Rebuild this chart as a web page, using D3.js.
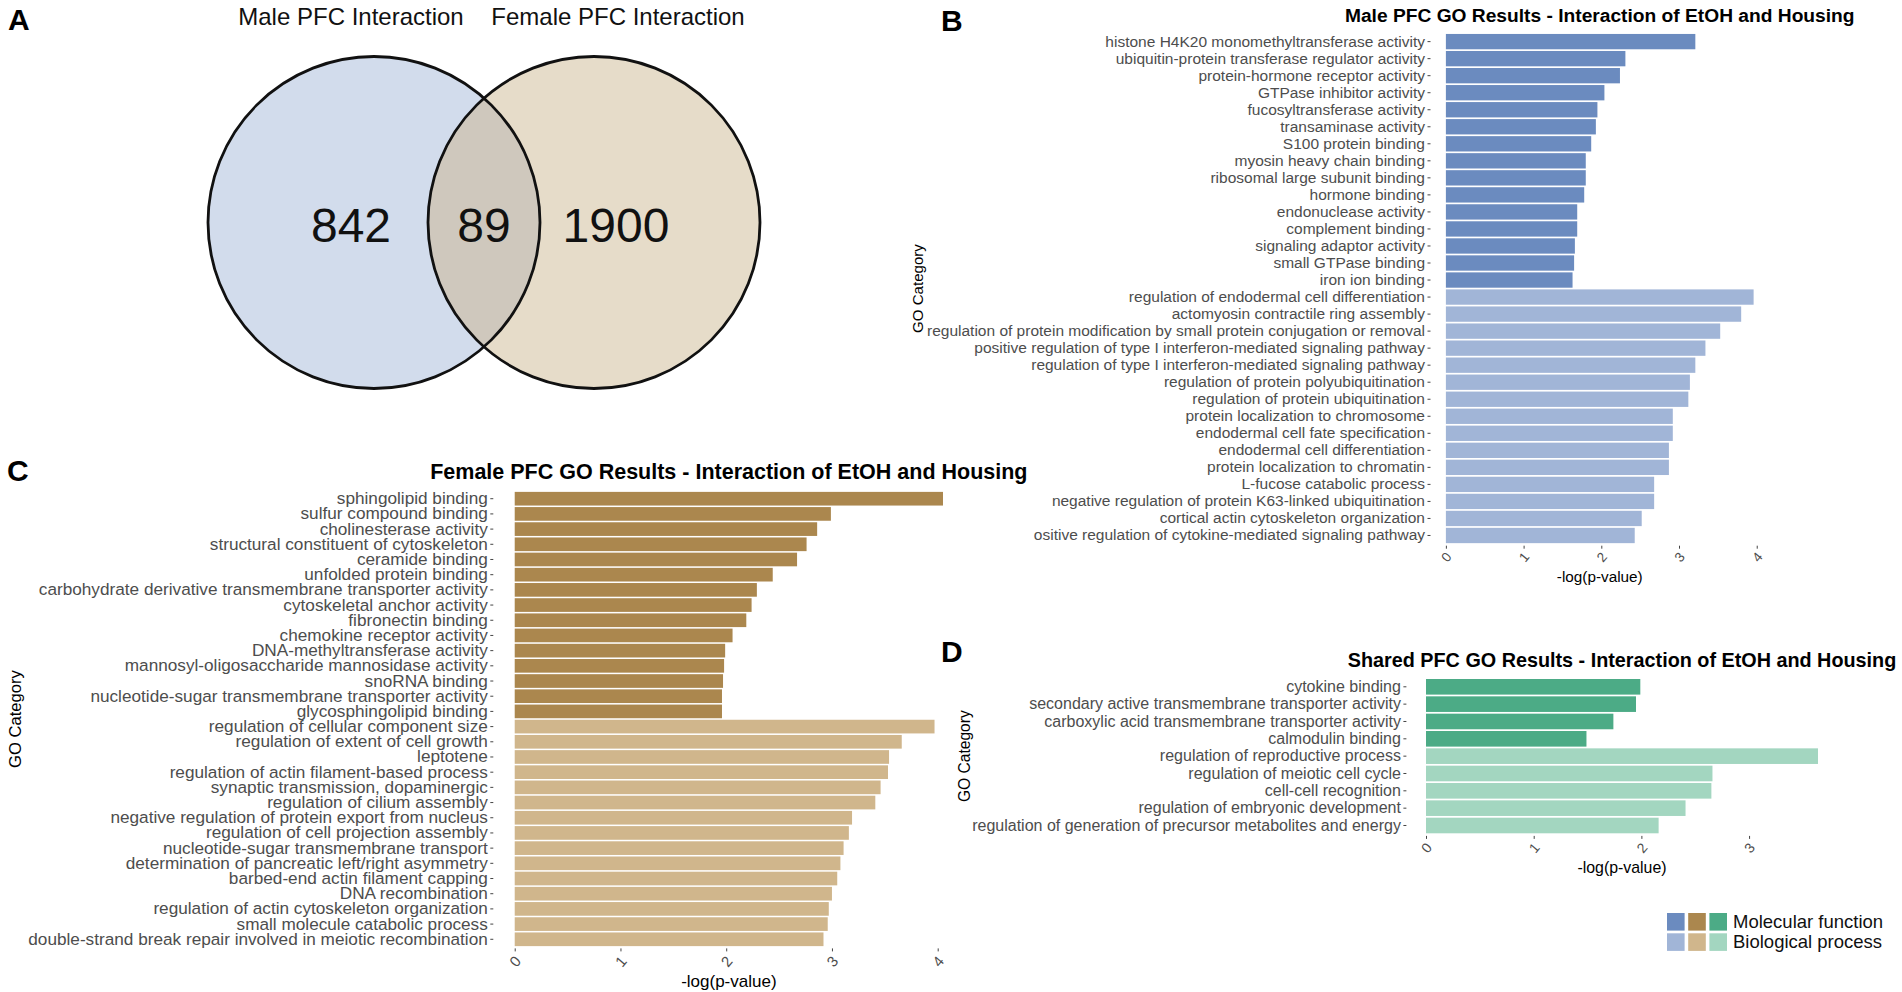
<!DOCTYPE html>
<html>
<head>
<meta charset="utf-8">
<script src="https://cdn.jsdelivr.net/npm/d3@7"></script>
<style>
  body { margin: 0; background: #fff; }
  svg { display: block; font-family: "Liberation Sans", Arial, Helvetica, sans-serif; }
</style>
</head>
<body>
<svg id="fig" width="1902" height="992"></svg>
<script>
// ---- data ----
const vennSets = ["Male PFC Interaction", "Female PFC Interaction"];
const vennCounts = [842, 89, 1900]; // male only, shared, female only

const maleMfTerms = [
  "histone H4K20 monomethyltransferase activity", "ubiquitin-protein transferase regulator activity",
  "protein-hormone receptor activity", "GTPase inhibitor activity", "fucosyltransferase activity",
  "transaminase activity", "S100 protein binding", "myosin heavy chain binding",
  "ribosomal large subunit binding", "hormone binding", "endonuclease activity", "complement binding",
  "signaling adaptor activity", "small GTPase binding", "iron ion binding"
];
const maleMfValues = [3.21, 2.31, 2.24, 2.04, 1.95, 1.93, 1.87, 1.80, 1.80, 1.78, 1.69, 1.69, 1.66, 1.65, 1.63];
const maleBpTerms = [
  "regulation of endodermal cell differentiation", "actomyosin contractile ring assembly",
  "regulation of protein modification by small protein conjugation or removal",
  "positive regulation of type I interferon-mediated signaling pathway",
  "regulation of type I interferon-mediated signaling pathway", "regulation of protein polyubiquitination",
  "regulation of protein ubiquitination", "protein localization to chromosome",
  "endodermal cell fate specification", "endodermal cell differentiation", "protein localization to chromatin",
  "L-fucose catabolic process", "negative regulation of protein K63-linked ubiquitination",
  "cortical actin cytoskeleton organization", "ositive regulation of cytokine-mediated signaling pathway"
];
const maleBpValues = [3.96, 3.80, 3.53, 3.34, 3.21, 3.14, 3.12, 2.92, 2.92, 2.87, 2.87, 2.68, 2.68, 2.52, 2.43];

const femaleMfTerms = [
  "sphingolipid binding", "sulfur compound binding", "cholinesterase activity",
  "structural constituent of cytoskeleton", "ceramide binding", "unfolded protein binding",
  "carbohydrate derivative transmembrane transporter activity", "cytoskeletal anchor activity",
  "fibronectin binding", "chemokine receptor activity", "DNA-methyltransferase activity",
  "mannosyl-oligosaccharide mannosidase activity", "snoRNA binding",
  "nucleotide-sugar transmembrane transporter activity", "glycosphingolipid binding"
];
const femaleMfValues = [4.05, 2.99, 2.86, 2.76, 2.67, 2.44, 2.29, 2.24, 2.19, 2.06, 1.99, 1.98, 1.97, 1.96, 1.96];
const femaleBpTerms = [
  "regulation of cellular component size", "regulation of extent of cell growth", "leptotene",
  "regulation of actin filament-based process", "synaptic transmission, dopaminergic",
  "regulation of cilium assembly", "negative regulation of protein export from nucleus",
  "regulation of cell projection assembly", "nucleotide-sugar transmembrane transport",
  "determination of pancreatic left/right asymmetry", "barbed-end actin filament capping",
  "DNA recombination", "regulation of actin cytoskeleton organization", "small molecule catabolic process",
  "double-strand break repair involved in meiotic recombination"
];
const femaleBpValues = [3.97, 3.66, 3.54, 3.53, 3.46, 3.41, 3.19, 3.16, 3.11, 3.08, 3.05, 3.00, 2.97, 2.96, 2.92];

const sharedMfTerms = [
  "cytokine binding", "secondary active transmembrane transporter activity",
  "carboxylic acid transmembrane transporter activity", "calmodulin binding"
];
const sharedMfValues = [1.99, 1.95, 1.74, 1.49];
const sharedBpTerms = [
  "regulation of reproductive process", "regulation of meiotic cell cycle", "cell-cell recognition",
  "regulation of embryonic development", "regulation of generation of precursor metabolites and energy"
];
const sharedBpValues = [3.64, 2.66, 2.65, 2.41, 2.16];

const legendLabels = ["Molecular function", "Biological process"];

// ---- colours ----
const maleColors = { MF: "#6b8bbf", BP: "#a1b5d7" };
const femaleColors = { MF: "#ab874e", BP: "#d0b68c" };
const sharedColors = { MF: "#4cab86", BP: "#a3d6c0" };
const labelGrey = "#4d4d4d";

const svg = d3.select("#fig");

// ---- panel A: venn ----
function drawVenn() {
  const g = svg.append("g");
  const cy = 222.5, r = 166;
  const circles = [
    { cx: 374, fill: "#d2dcec" },
    { cx: 594, fill: "#e6dcc9" }
  ];

  g.append("clipPath").attr("id", "clipLeft")
    .append("circle").attr("cx", circles[0].cx).attr("cy", cy).attr("r", r);

  g.selectAll(".vfill").data(circles).enter().append("circle")
    .attr("class", "vfill")
    .attr("cx", d => d.cx).attr("cy", cy).attr("r", r)
    .attr("fill", d => d.fill);

  // overlap region
  g.append("circle")
    .attr("cx", circles[1].cx).attr("cy", cy).attr("r", r)
    .attr("clip-path", "url(#clipLeft)")
    .attr("fill", "#cfc8bd");

  g.selectAll(".vline").data(circles).enter().append("circle")
    .attr("class", "vline")
    .attr("cx", d => d.cx).attr("cy", cy).attr("r", r)
    .attr("fill", "none").attr("stroke", "#111").attr("stroke-width", 2.8);

  g.selectAll(".vset").data(vennSets).enter().append("text")
    .attr("x", (d, i) => [351, 618][i]).attr("y", 25)
    .attr("text-anchor", "middle").attr("font-size", 24).attr("fill", "#111")
    .text(d => d);

  g.selectAll(".vnum").data(vennCounts).enter().append("text")
    .attr("x", (d, i) => [351, 484, 616][i]).attr("y", 242)
    .attr("text-anchor", "middle").attr("font-size", 48).attr("fill", "#111")
    .text(d => d);
}

// ---- GO bar panels ----
function drawGoPanel(o) {
  const rows = o.mfTerms.map((t, i) => ({ term: t, value: o.mfValues[i], type: "MF" }))
    .concat(o.bpTerms.map((t, i) => ({ term: t, value: o.bpValues[i], type: "BP" })));

  const maxV = d3.max(rows, d => d.value);
  const x = d3.scaleLinear().domain([-0.05 * maxV, 1.05 * maxV]).range([o.left, o.right]);
  const y = d3.scaleBand().domain(rows.map(d => d.term)).range([o.top, o.bottom])
    .paddingInner(0.1).paddingOuter(0.15);

  const g = svg.append("g");

  g.selectAll(".bar").data(rows).enter().append("rect")
    .attr("class", "bar")
    .attr("x", x(0)).attr("y", d => y(d.term))
    .attr("width", d => x(d.value) - x(0)).attr("height", y.bandwidth())
    .attr("fill", d => o.colors[d.type]);

  // y axis (categories)
  const yAxis = g.append("g").attr("transform", `translate(${o.left},0)`)
    .call(d3.axisLeft(y).tickSize(3).tickPadding(2.5));
  yAxis.select(".domain").remove();
  yAxis.selectAll(".tick line").attr("stroke", "#444");
  yAxis.selectAll(".tick text").attr("fill", labelGrey).attr("font-size", o.labelSize)
    .attr("font-family", null);

  // x axis (values)
  const xAxis = g.append("g").attr("transform", `translate(0,${o.bottom})`)
    .call(d3.axisBottom(x).ticks(5).tickSize(3).tickFormat(d3.format("d")));
  xAxis.select(".domain").remove();
  xAxis.selectAll(".tick line").attr("stroke", "#444");
  xAxis.selectAll(".tick text")
    .attr("fill", labelGrey).attr("font-size", o.tickSize).attr("font-family", null)
    .attr("y", o.tickOffset).attr("dy", "0.35em").attr("text-anchor", "middle")
    .attr("transform", `rotate(-50,0,${o.tickOffset})`);

  const cx = (o.left + o.right) / 2;
  g.append("text").attr("x", cx).attr("y", o.titleY)
    .attr("text-anchor", "middle").attr("font-weight", "bold")
    .attr("font-size", o.titleSize).attr("fill", "#000").text(o.title);

  g.append("text").attr("x", cx).attr("y", o.axisTitleY)
    .attr("text-anchor", "middle").attr("font-size", o.axisTitleSize).attr("fill", "#000")
    .text("-log(p-value)");

  g.append("text")
    .attr("transform", `translate(${o.goX},${(o.top + o.bottom) / 2}) rotate(-90)`)
    .attr("text-anchor", "middle").attr("dy", "0.35em")
    .attr("font-size", o.goSize).attr("fill", "#000").text("GO Category");
}

drawVenn();

drawGoPanel({
  mfTerms: maleMfTerms, mfValues: maleMfValues, bpTerms: maleBpTerms, bpValues: maleBpValues,
  colors: maleColors, left: 1430.5, right: 1769, top: 31.4, bottom: 545.7,
  title: "Male PFC GO Results - Interaction of EtOH and Housing", titleSize: 19.2, titleY: 22,
  labelSize: 15.5, tickSize: 13.5, tickOffset: 11.5, axisTitleSize: 15.3, axisTitleY: 582,
  goX: 918, goSize: 15.1
});

drawGoPanel({
  mfTerms: femaleMfTerms, mfValues: femaleMfValues, bpTerms: femaleBpTerms, bpValues: femaleBpValues,
  colors: femaleColors, left: 493.3, right: 964.4, top: 489.6, bottom: 948.4,
  title: "Female PFC GO Results - Interaction of EtOH and Housing", titleSize: 21.5, titleY: 479,
  labelSize: 17.2, tickSize: 15, tickOffset: 13, axisTitleSize: 17, axisTitleY: 987,
  goX: 15, goSize: 16.6
});

drawGoPanel({
  mfTerms: sharedMfTerms, mfValues: sharedMfValues, bpTerms: sharedBpTerms, bpValues: sharedBpValues,
  colors: sharedColors, left: 1406.4, right: 1837.6, top: 676.4, bottom: 835.9,
  title: "Shared PFC GO Results - Interaction of EtOH and Housing", titleSize: 19.8, titleY: 667,
  labelSize: 16, tickSize: 14, tickOffset: 12, axisTitleSize: 15.9, axisTitleY: 873,
  goX: 965, goSize: 15.6
});

// ---- legend ----
const legend = svg.append("g").attr("transform", "translate(1667,913)");
const palettes = [maleColors, femaleColors, sharedColors];
legendLabels.forEach((lab, row) => {
  const key = row === 0 ? "MF" : "BP";
  legend.selectAll(".sw" + row).data(palettes).enter().append("rect")
    .attr("x", (d, i) => i * 21.2).attr("y", row * 20.3)
    .attr("width", 17.6).attr("height", 17.6)
    .attr("fill", d => d[key]);
  legend.append("text").attr("x", 66).attr("y", row * 20.3 + 15)
    .attr("font-size", 18.5).attr("fill", "#111").text(lab);
});

// ---- panel letters ----
const letters = [["A", 8, 30], ["B", 941, 31], ["C", 7, 481], ["D", 941, 662]];
svg.selectAll(".letter").data(letters).enter().append("text")
  .attr("x", d => d[1]).attr("y", d => d[2])
  .attr("font-size", 30).attr("font-weight", "bold").attr("fill", "#000")
  .text(d => d[0]);
</script>
</body>
</html>
